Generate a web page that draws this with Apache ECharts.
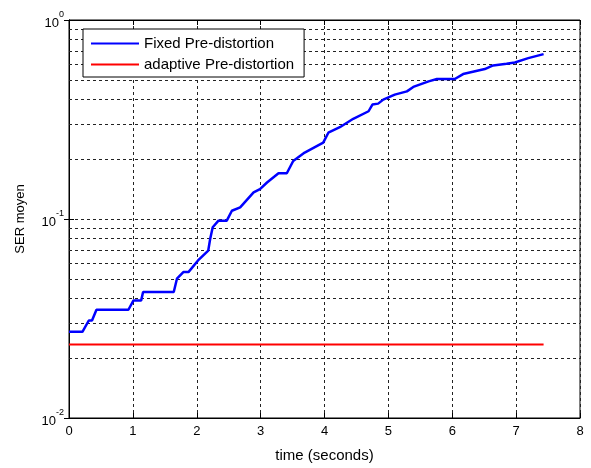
<!DOCTYPE html>
<html>
<head>
<meta charset="utf-8">
<script src="https://cdn.jsdelivr.net/npm/echarts@6/dist/echarts.min.js"></script>
<style>
  html, body { margin: 0; padding: 0; background: #fff; }
  #chart { width: 591px; height: 468px; }
</style>
</head>
<body>
<div id="chart"></div>
<script>
// courbe bleue
var timeFixed = [0, 0.21, 0.31, 0.36, 0.43, 0.93, 1.01, 1.13, 1.16, 1.64, 1.69, 1.79, 1.87, 2.02, 2.18,
  2.21, 2.25, 2.34, 2.47, 2.55, 2.68, 2.89, 2.99, 3.10, 3.28, 3.41, 3.51, 3.69, 3.98, 4.06, 4.24,
  4.45, 4.69, 4.75, 4.84, 4.92, 5.10, 5.29, 5.39, 5.63, 5.76, 6.04, 6.17, 6.51, 6.64, 6.85, 6.98,
  7.19, 7.43]
var serFixed = [0.0271, 0.0271, 0.0309, 0.0309, 0.0350, 0.0350, 0.0390, 0.0390, 0.0430, 0.0430, 0.0501,
  0.0541, 0.0541, 0.0619, 0.0694, 0.0794, 0.0909, 0.0981, 0.0981, 0.110, 0.1144, 0.136, 0.1413,
  0.1526, 0.1698, 0.1698, 0.1956, 0.2156, 0.2418, 0.2714, 0.2893, 0.3188, 0.3479, 0.3758, 0.380,
  0.398, 0.4217, 0.438, 0.4609, 0.4914, 0.505, 0.505, 0.535, 0.567, 0.591, 0.6026, 0.612, 0.643, 0.674]

// courbe rouge
var timeAdaptive = [0, 7.43]
var serAdaptive = [0.0234, 0.0234]

// grille log mineure
var yMinorGrid = [0.02, 0.03, 0.04, 0.05, 0.06, 0.07, 0.08, 0.09,
  0.2, 0.3, 0.4, 0.5, 0.6, 0.7, 0.8, 0.9]

var font = 'Liberation Sans, Arial, sans-serif'
var dash = { color: '#222', width: 1, type: [3, 3] }

function pairs (xs, ys) {
  return xs.map(function (x, i) { return [x, ys[i]] })
}

var myChart = echarts.init(document.getElementById('chart'))

var option = {
  animation: false,
  backgroundColor: '#fff',
  textStyle: { fontFamily: font },
  grid: {
    left: 69,
    right: 11,
    top: 20,
    bottom: 48,
    show: true,
    borderColor: '#000',
    borderWidth: 1,
    containLabel: false
  },
  legend: {
    left: 83,
    top: 29,
    z: 10,
    orient: 'vertical',
    data: ['Fixed Pre-distortion', 'adaptive Pre-distortion'],
    icon: 'rect',
    itemWidth: 48,
    itemHeight: 2,
    itemGap: 6,
    padding: [7, 10, 5, 8],
    borderColor: '#000',
    borderWidth: 1,
    borderRadius: 0,
    backgroundColor: '#fff',
    selectedMode: false,
    textStyle: { fontFamily: font, fontSize: 15, color: '#000', padding: [0, 0, 0, 0] }
  },
  xAxis: [
    {
      type: 'value',
      min: 0,
      max: 8,
      interval: 1,
      name: 'time (seconds)',
      nameLocation: 'middle',
      nameGap: 30,
      nameTextStyle: { fontFamily: font, fontSize: 15, color: '#000' },
      axisLine: { lineStyle: { color: '#000', width: 1 } },
      axisTick: { inside: true, length: 5, lineStyle: { color: '#000' } },
      axisLabel: { color: '#000', fontSize: 13, margin: 7, fontFamily: font },
      splitLine: { show: true, lineStyle: dash }
    },
    {
      type: 'value',
      position: 'top',
      min: 0,
      max: 8,
      interval: 1,
      axisLine: { lineStyle: { color: '#000', width: 1 } },
      axisTick: { inside: true, length: 5, lineStyle: { color: '#000' } },
      axisLabel: { show: false },
      splitLine: { show: false }
    }
  ],
  yAxis: [
    {
      type: 'log',
      logBase: 10,
      min: 0.01,
      max: 1,
      name: 'SER moyen',
      nameLocation: 'middle',
      nameGap: 42,
      nameRotate: 90,
      nameTextStyle: { fontFamily: font, fontSize: 13, color: '#000' },
      axisLine: { show: true, lineStyle: { color: '#000', width: 1 } },
      axisTick: { show: true, inside: true, length: 5, lineStyle: { color: '#000' } },
      axisLabel: {
        margin: 5,
        formatter: function (v) {
          var e = Math.round(Math.log10(v))
          return '{b|10}{s|' + e + '}'
        },
        rich: {
          b: { fontSize: 13, color: '#000', fontFamily: font, lineHeight: 20, verticalAlign: 'bottom' },
          s: { fontSize: 9, color: '#000', fontFamily: font, lineHeight: 20, verticalAlign: 'top' }
        }
      },
      splitLine: { show: true, lineStyle: dash }
    },
    {
      type: 'log',
      logBase: 10,
      min: 0.01,
      max: 1,
      position: 'right',
      axisLine: { show: true, lineStyle: { color: '#000', width: 1 } },
      axisTick: { show: true, inside: true, length: 5, lineStyle: { color: '#000' } },
      axisLabel: { show: false },
      splitLine: { show: false }
    }
  ],
  series: [
    {
      name: 'grid',
      type: 'line',
      data: [],
      silent: true,
      z: 1,
      markLine: {
        silent: true,
        z: 1,
        symbol: 'none',
        label: { show: false },
        lineStyle: dash,
        data: yMinorGrid.map(function (v) { return { yAxis: v } })
      }
    },
    {
      name: 'Fixed Pre-distortion',
      type: 'line',
      z: 3,
      showSymbol: false,
      symbol: 'none',
      color: '#0000ff',
      lineStyle: { color: '#0000ff', width: 2.5 },
      data: pairs(timeFixed, serFixed)
    },
    {
      name: 'adaptive Pre-distortion',
      type: 'line',
      z: 3,
      showSymbol: false,
      symbol: 'none',
      color: '#ff0000',
      lineStyle: { color: '#ff0000', width: 2 },
      data: pairs(timeAdaptive, serAdaptive)
    }
  ]
}

myChart.setOption(option)
</script>
</body>
</html>
